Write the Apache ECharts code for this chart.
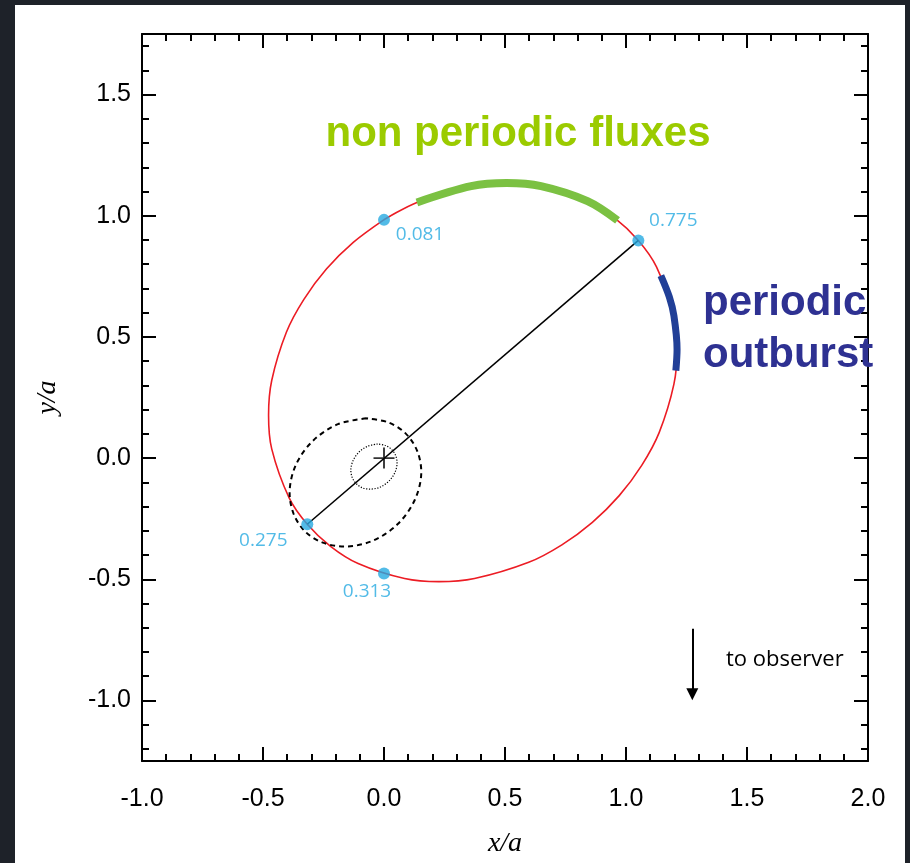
<!DOCTYPE html>
<html>
<head>
<meta charset="utf-8">
<script src="https://cdn.jsdelivr.net/npm/echarts@6/dist/echarts.min.js"></script>
<style>
  body { margin: 0; background: #1e2229; }
  #chart { position: absolute; left: 15px; top: 5px; width: 890px; height: 858px; background: #fff; }
</style>
</head>
<body>
<div id="chart"></div>
<script>
// axes
const xTickLabels = [-1.0, -0.5, 0.0, 0.5, 1.0, 1.5, 2.0];
const yTickLabels = [-1.0, -0.5, 0.0, 0.5, 1.0, 1.5];
const yMinorTicks = [-1.2, -1.1, -0.9, -0.8, -0.7, -0.6, -0.4, -0.3, -0.2, -0.1,
    0.1, 0.2, 0.3, 0.4, 0.6, 0.7, 0.8, 0.9, 1.1, 1.2, 1.3, 1.4, 1.6, 1.7];

// orbite (points estimés sur l'image)
const orbitX = [-0.001, -0.127, -0.238, -0.331, -0.403, -0.464, -0.477, -0.464, -0.392, -0.317, -0.221,
    -0.107, 0.085, 0.227, 0.374, 0.598, 0.735, 0.861, 0.972, 1.065, 1.137, 1.198, 1.211, 1.198,
    1.126, 1.051, 0.955, 0.841, 0.649, 0.507, 0.360, 0.136, -0.001];
const orbitY = [0.983, 0.890, 0.780, 0.655, 0.520, 0.320, 0.177, 0.038, -0.164, -0.273, -0.364,
    -0.435, -0.497, -0.510, -0.497, -0.430, -0.358, -0.265, -0.155, -0.030, 0.105, 0.305, 0.448, 0.587,
    0.789, 0.898, 0.989, 1.060, 1.122, 1.135, 1.122, 1.055, 0.983];

// arcs
const nonPeriodicX = [0.136, 0.360, 0.507, 0.649, 0.841, 0.965];
const nonPeriodicY = [1.055, 1.122, 1.135, 1.122, 1.060, 0.981];
const outburstX = [1.144, 1.179, 1.198, 1.211, 1.206];
const outburstY = [0.753, 0.665, 0.587, 0.448, 0.361];

// ellipses autour du foyer
const dashedX = [-0.073, -0.190, -0.294, -0.365, -0.390, -0.373, -0.326, -0.253,
    -0.163, -0.046, 0.057, 0.128, 0.154, 0.137, 0.089, 0.016, -0.073];
const dashedY = [0.164, 0.140, 0.071, -0.030, -0.144, -0.231, -0.303, -0.349,
    -0.365, -0.341, -0.272, -0.171, -0.057, 0.030, 0.102, 0.148, 0.164];
const dottedX = [-0.026, -0.067, -0.103, -0.128, -0.137, -0.131, -0.114, -0.089,
    -0.057, -0.016, 0.020, 0.045, 0.054, 0.048, 0.031, 0.006, -0.026];
const dottedY = [0.058, 0.049, 0.025, -0.011, -0.051, -0.081, -0.106, -0.123,
    -0.128, -0.120, -0.095, -0.060, -0.020, 0.011, 0.036, 0.052, 0.058];

// phases
const phaseLabels = ['0.081', '0.775', '0.275', '0.313'];
const phaseX = [0.0, 1.051, -0.317, 0.0];
const phaseY = [0.983, 0.898, -0.273, -0.476];
const phaseLabelOffsets = [[36, 15], [35, -20], [-44, 16], [-17, 18]];

// foyer + direction observateur
const focusX = [0.0];
const focusY = [0.0];
const arrowX = [1.274, 1.274];
const arrowY = [-0.704, -0.975];

const zip = (xs, ys) => xs.map((x, i) => [x, ys[i]]);
const fmt = v => v.toFixed(1);

const chart = echarts.init(document.getElementById('chart'));

const axisLine = { show: true, onZero: false, lineStyle: { color: '#000', width: 2 } };
const gridDef = { left: 127, top: 29, width: 726, height: 729 };

function xAxisDef(pos, showLabels) {
    return {
        type: 'value', position: pos, min: -1, max: 2, interval: 0.5,
        axisLine: axisLine,
        axisTick: { inside: true, length: 14, lineStyle: { color: '#000', width: 2 } },
        minorTick: { show: true, splitNumber: 5, length: 7, lineStyle: { color: '#000', width: 2 } },
        splitLine: { show: false },
        axisLabel: {
            show: showLabels, margin: 26, formatter: fmt,
            color: '#000', fontSize: 25, fontFamily: 'Liberation Sans'
        },
        name: showLabels ? 'x/a' : '',
        nameLocation: 'middle', nameGap: 69,
        nameTextStyle: { fontFamily: 'Liberation Serif', fontStyle: 'italic', fontSize: 28, color: '#000' }
    };
}

function yAxisDef(pos, major, showLabels) {
    return {
        type: 'value', position: pos, min: -1.25, max: 1.75,
        axisLine: major ? axisLine : { show: false, onZero: false },
        axisTick: {
            inside: true, length: major ? 14 : 7,
            customValues: major ? yTickLabels : yMinorTicks,
            lineStyle: { color: '#000', width: 2 }
        },
        splitLine: { show: false },
        axisLabel: {
            show: showLabels, customValues: yTickLabels, margin: 11, formatter: fmt,
            color: '#000', fontSize: 25, fontFamily: 'Liberation Sans'
        },
        name: showLabels ? 'y/a' : '',
        nameLocation: 'middle', nameGap: 80,
        nameTextStyle: { fontFamily: 'Liberation Serif', fontStyle: 'italic', fontSize: 28, color: '#000' }
    };
}

const option = {
    animation: false,
    grid: gridDef,
    xAxis: [xAxisDef('bottom', true), xAxisDef('top', false)],
    yAxis: [
        yAxisDef('left', true, true),
        yAxisDef('left', false, false),
        yAxisDef('right', true, false),
        yAxisDef('right', false, false)
    ],
    series: [
        {
            type: 'line', name: 'orbit', data: zip(orbitX, orbitY),
            smooth: 0.33, showSymbol: false, z: 2,
            lineStyle: { color: '#ec1c24', width: 1.6 }
        },
        {
            type: 'line', name: 'non periodic', data: zip(nonPeriodicX, nonPeriodicY),
            smooth: 0.33, showSymbol: false, z: 3,
            lineStyle: { color: '#7bc142', width: 8, cap: 'butt' }
        },
        {
            type: 'line', name: 'outburst', data: zip(outburstX, outburstY),
            smooth: 0.33, showSymbol: false, z: 3,
            lineStyle: { color: '#213f97', width: 7, cap: 'butt' }
        },
        {
            type: 'line', name: 'dashed', data: zip(dashedX, dashedY),
            smooth: 0.33, showSymbol: false, z: 2,
            lineStyle: { color: '#000', width: 2, type: [5, 4] }
        },
        {
            type: 'line', name: 'dotted', data: zip(dottedX, dottedY),
            smooth: 0.33, showSymbol: false, z: 2,
            lineStyle: { color: '#000', width: 1.2, type: [1.2, 1.6] }
        },
        {
            type: 'line', name: 'axis line',
            data: [[phaseX[2], phaseY[2]], [phaseX[1], phaseY[1]]],
            showSymbol: false, z: 3,
            lineStyle: { color: '#000', width: 1.6 }
        },
        {
            type: 'scatter', name: 'focus', data: zip(focusX, focusY), z: 4,
            symbol: 'path://M9.1,0H10.9V20H9.1ZM0,9.1H20V10.9H0Z', symbolSize: 21,
            itemStyle: { color: '#000' }
        },
        {
            type: 'scatter', name: 'phases', z: 5,
            data: phaseLabels.map((p, i) => ({
                value: [phaseX[i], phaseY[i]],
                label: { offset: phaseLabelOffsets[i] }
            })),
            symbolSize: 12,
            itemStyle: { color: '#27aae1' },
            label: {
                show: true, position: 'inside',
                formatter: params => phaseLabels[params.dataIndex],
                color: '#27aae1', fontSize: 19, fontFamily: 'Open Sans'
            }
        },
        {
            type: 'lines', name: 'observer', coordinateSystem: 'cartesian2d', z: 4,
            data: [{ coords: zip(arrowX, arrowY) }],
            symbol: ['none', 'triangle'], symbolSize: 12,
            lineStyle: { color: '#000', width: 2, opacity: 1 }
        }
    ],
    graphic: [
        {
            type: 'text', x: 503, y: 129, z: 10,
            style: {
                text: 'non periodic fluxes', fill: '#9bcb00',
                font: 'bold 42px "Liberation Sans"', align: 'center', verticalAlign: 'middle'
            }
        },
        {
            type: 'text', x: 688, y: 298, z: 10,
            style: {
                text: 'periodic', fill: '#2e3192',
                font: 'bold 42px "Liberation Sans"', align: 'left', verticalAlign: 'middle'
            }
        },
        {
            type: 'text', x: 688, y: 350, z: 10,
            style: {
                text: 'outburst', fill: '#2e3192',
                font: 'bold 42px "Liberation Sans"', align: 'left', verticalAlign: 'middle'
            }
        },
        {
            type: 'text', x: 711, y: 655, z: 10,
            style: {
                text: 'to observer', fill: '#000',
                font: '22px "Open Sans"', align: 'left', verticalAlign: 'middle'
            }
        }
    ]
};

chart.setOption(option);
</script>
</body>
</html>
